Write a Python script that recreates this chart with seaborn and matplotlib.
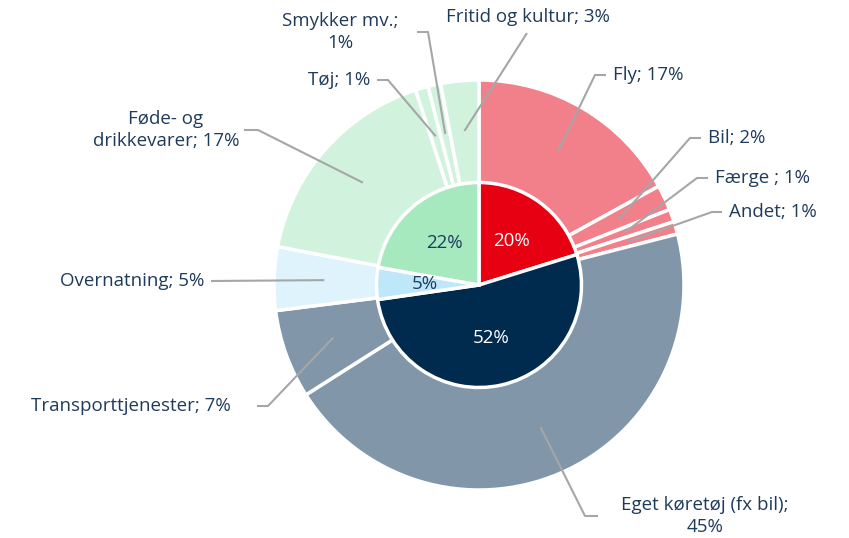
import numpy as np
import matplotlib
matplotlib.use("Agg")
import matplotlib.pyplot as plt
import seaborn as sns

# ---- data ----
outer_labels = ["Fly; 17%", "Bil; 2%", "Færge ; 1%", "Andet; 1%",
                "Eget køretøj (fx bil);\n45%", "Transporttjenester; 7%",
                "Overnatning; 5%", "Føde- og\ndrikkevarer; 17%", "Tøj; 1%",
                "Smykker mv.;\n1%", "Fritid og kultur; 3%"]
outer_values = [17, 2, 1, 1, 45, 7, 5, 17, 1, 1, 3]
outer_colors = ["#F2808A", "#F2808A", "#F2808A", "#F2808A",
                "#8296A9", "#8296A9", "#DFF3FC",
                "#D1F3DE", "#D1F3DE", "#D1F3DE", "#D1F3DE"]
inner_values = [20, 52, 5, 22]
inner_labels = ["20%", "52%", "5%", "22%"]
inner_colors = ["#E60012", "#002B4F", "#BFE7FA", "#A6E9BF"]
inner_text_colors = ["white", "white", "#1F3B5C", "#1F3B5C"]

sns.set_theme(style="white")
plt.rcParams["font.family"] = ["Open Sans", "DejaVu Sans"]

W, H = 849, 538
CX, CY, R = 479, 285, 205
TXT = "#1F3B5C"
LINE = "#A6A6A6"
FS = 13.5


def px(x, y):
    return ((x - CX) / R, (CY - y) / R)


fig = plt.figure(figsize=(W / 100, H / 100), dpi=100)
ax = fig.add_axes([0, 0, 1, 1])

wedges, _ = ax.pie(outer_values, radius=1.0, colors=outer_colors, startangle=90,
                   counterclock=False,
                   wedgeprops=dict(edgecolor="white", linewidth=2.5))
iw, _, autotexts = ax.pie(inner_values, radius=0.5, colors=inner_colors, startangle=90,
                          counterclock=False, autopct=lambda p: "",
                          pctdistance=0.53,
                          wedgeprops=dict(edgecolor="white", linewidth=2.5))
for t, lab, c in zip(autotexts, inner_labels, inner_text_colors):
    t.set_text(lab)
    t.set_color(c)
    t.set_fontsize(FS)

ax.set_xlim(-CX / R, (W - CX) / R)
ax.set_ylim(-(H - CY) / R, CY / R)
ax.set_aspect("equal")
ax.axis("off")

# label layout in pixel coords: (path points after wedge start, text pos, ha)
layout = [
    ([(595, 75), (606, 75)], (613, 75), "left"),
    ([(690, 138), (701, 138)], (708, 138), "left"),
    ([(697, 178), (708, 178)], (715, 178), "left"),
    ([(712, 212), (722, 212)], (729, 212), "left"),
    ([(585, 516), (598, 516)], (705, 516), "center"),
    ([(268, 406), (257, 406)], (231, 406), "right"),
    ([(211, 281)], (204, 281), "right"),
    ([(258, 130), (244, 130)], (166, 130), "center"),
    ([(388, 80), (377, 80)], (370, 80), "right"),
    ([(428, 32), (417, 32)], (340, 32), "center"),
    ([(527, 33)], (528, 17), "center"),
]

for w, lab, (pts, tpos, ha) in zip(wedges, outer_labels, layout):
    mid = np.deg2rad((w.theta1 + w.theta2) / 2)
    r0 = 0.755
    xs = [r0 * np.cos(mid)] + [px(*p)[0] for p in pts]
    ys = [r0 * np.sin(mid)] + [px(*p)[1] for p in pts]
    ax.plot(xs, ys, color=LINE, lw=1.5, solid_capstyle="butt")
    tx, ty = px(*tpos)
    ax.text(tx, ty, lab, ha=ha, va="center", fontsize=FS, color=TXT,
            multialignment="center", linespacing=1.25)

fig.savefig("out.png", dpi=100)
